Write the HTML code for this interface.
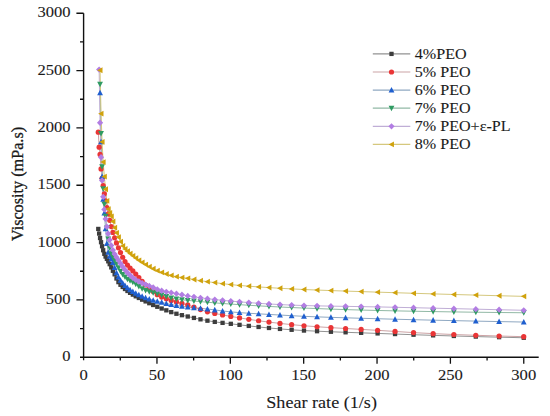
<!DOCTYPE html><html><head><meta charset="utf-8"><style>html,body{margin:0;padding:0;background:#fff;width:550px;height:416px;overflow:hidden;}svg{display:block}text{font-family:"Liberation Serif",serif;fill:#1a1a1a;stroke:#1a1a1a;stroke-width:0.1px}</style></head><body>
<svg width="550" height="416" viewBox="0 0 550 416">
<path d="M98.27 228.94L99.14 233.57L100.06 238.00L101.04 242.22L102.08 246.25L103.17 250.25L104.34 253.82L105.57 256.55L106.87 258.89L108.25 261.31L109.71 264.17L111.26 267.36L112.90 270.77L114.64 274.33L116.48 278.48L118.44 282.12L120.50 284.76L122.69 286.98L125.01 289.00L127.47 290.98L130.07 292.85L132.83 294.61L135.75 296.30L138.85 297.97L142.13 299.66L145.60 301.41L149.28 303.20L153.18 304.99L157.30 306.77L161.68 308.53L166.31 310.34L171.22 312.12L176.42 313.76L181.93 315.18L187.76 316.51L193.94 317.92L200.49 319.34L207.43 320.69L214.78 321.88L222.56 322.87L230.81 323.82L239.54 324.85L248.80 325.91L258.60 326.96L268.98 327.97L279.98 328.92L291.64 329.79L303.98 330.55L317.06 331.20L330.92 331.77L345.59 332.30L361.14 332.84L377.61 333.42L395.05 334.05L413.54 334.71L433.12 335.36L453.86 335.98L475.83 336.58L499.10 337.18L523.76 337.76" fill="none" stroke="#929292" stroke-width="1"/>
<path d="M98.27 132.16L99.14 147.18L100.06 154.40L101.04 168.97L102.08 178.37L103.17 185.48L104.34 193.73L105.57 200.93L106.87 207.51L108.25 213.92L109.71 220.32L111.26 226.53L112.90 232.38L114.64 237.82L116.48 242.95L118.44 247.85L120.50 252.58L122.69 257.27L125.01 261.55L127.47 265.04L130.07 268.04L132.83 270.94L135.75 274.11L138.85 277.67L142.13 281.37L145.60 284.98L149.28 288.34L153.18 291.62L157.30 294.66L161.68 297.04L166.31 298.87L171.22 300.43L176.42 301.94L181.93 303.41L187.76 304.94L193.94 307.11L200.49 309.62L207.43 311.80L214.78 313.47L222.56 314.95L230.81 316.40L239.54 317.88L248.80 319.34L258.60 320.76L268.98 322.12L279.98 323.42L291.64 324.63L303.98 325.74L317.06 326.74L330.92 327.63L345.59 328.50L361.14 329.38L377.61 330.34L395.05 331.45L413.54 332.61L433.12 333.64L453.86 334.52L475.83 335.31L499.10 336.03L523.76 336.67" fill="none" stroke="#cca3a5" stroke-width="1"/>
<path d="M100.06 92.83L101.04 141.68L102.08 176.53L103.17 199.24L104.34 213.00L105.57 228.76L106.87 243.42L108.25 252.20L109.71 256.21L111.26 259.09L112.90 262.59L114.64 267.52L116.48 272.71L118.44 276.98L120.50 280.22L122.69 283.02L125.01 285.48L127.47 287.70L130.07 289.73L132.83 291.60L135.75 293.31L138.85 294.90L142.13 296.38L145.60 297.76L149.28 299.01L153.18 300.18L157.30 301.29L161.68 302.39L166.31 303.48L171.22 304.53L176.42 305.49L181.93 306.36L187.76 307.12L193.94 307.75L200.49 308.33L207.43 308.99L214.78 309.92L222.56 310.97L230.81 311.89L239.54 312.61L248.80 313.25L258.60 313.84L268.98 314.43L279.98 315.04L291.64 315.70L303.98 316.33L317.06 316.86L330.92 317.35L345.59 317.81L361.14 318.27L377.61 318.74L395.05 319.22L413.54 319.69L433.12 320.17L453.86 320.64L475.83 321.11L499.10 321.58L523.76 322.05" fill="none" stroke="#8fa8c2" stroke-width="1"/>
<path d="M100.06 84.23L101.04 133.53L102.08 166.79L103.17 188.69L104.34 204.28L105.57 216.09L106.87 227.90L108.25 239.09L109.71 248.00L111.26 253.64L112.90 257.32L114.64 260.47L116.48 264.02L118.44 267.78L120.50 271.33L122.69 274.38L125.01 277.01L127.47 279.16L130.07 280.81L132.83 282.33L135.75 284.08L138.85 286.41L142.13 288.72L145.60 290.38L149.28 291.63L153.18 292.71L157.30 293.78L161.68 294.99L166.31 296.45L171.22 297.92L176.42 299.08L181.93 299.79L187.76 300.36L193.94 300.99L200.49 301.61L207.43 302.24L214.78 302.86L222.56 303.48L230.81 304.08L239.54 304.67L248.80 305.27L258.60 305.85L268.98 306.43L279.98 306.99L291.64 307.54L303.98 308.07L317.06 308.59L330.92 309.10L345.59 309.60L361.14 310.06L377.61 310.48L395.05 310.87L413.54 311.23L433.12 311.58L453.86 311.91L475.83 312.22L499.10 312.50L523.76 312.76" fill="none" stroke="#92b9a6" stroke-width="1"/>
<path d="M99.14 69.55L100.06 122.76L101.04 157.27L102.08 180.43L103.17 196.83L104.34 209.44L105.57 218.96L106.87 226.74L108.25 233.72L109.71 239.93L111.26 245.38L112.90 250.09L114.64 254.03L116.48 257.27L118.44 260.27L120.50 263.44L122.69 266.73L125.01 269.89L127.47 272.74L130.07 275.37L132.83 277.77L135.75 279.82L138.85 281.51L142.13 283.03L145.60 284.53L149.28 285.97L153.18 287.51L157.30 289.28L161.68 290.73L166.31 291.79L171.22 292.71L176.42 293.66L181.93 294.77L187.76 295.88L193.94 296.86L200.49 297.80L207.43 298.70L214.78 299.54L222.56 300.35L230.81 301.11L239.54 301.85L248.80 302.59L258.60 303.31L268.98 303.98L279.98 304.59L291.64 305.12L303.98 305.54L317.06 305.87L330.92 306.13L345.59 306.36L361.14 306.61L377.61 306.92L395.05 307.29L413.54 307.71L433.12 308.16L453.86 308.65L475.83 309.17L499.10 309.72L523.76 310.29" fill="none" stroke="#c0aed6" stroke-width="1"/>
<path d="M100.06 70.24L101.04 113.70L102.08 141.91L103.17 162.09L104.34 176.53L105.57 189.26L106.87 200.96L108.25 209.10L109.71 212.93L111.26 216.32L112.90 221.47L114.64 227.68L116.48 232.87L118.44 237.20L120.50 241.68L122.69 245.95L125.01 248.93L127.47 251.22L130.07 253.56L132.83 255.85L135.75 258.09L138.85 260.29L142.13 262.45L145.60 264.56L149.28 266.68L153.18 268.74L157.30 270.66L161.68 272.38L166.31 273.99L171.22 275.46L176.42 276.69L181.93 277.57L187.76 278.36L193.94 279.48L200.49 280.69L207.43 281.68L214.78 282.62L222.56 283.65L230.81 284.60L239.54 285.43L248.80 286.20L258.60 286.92L268.98 287.61L279.98 288.27L291.64 288.89L303.98 289.50L317.06 290.06L330.92 290.58L345.59 291.09L361.14 291.60L377.61 292.14L395.05 292.71L413.54 293.29L433.12 293.88L453.86 294.49L475.83 295.10L499.10 295.73L523.76 296.36" fill="none" stroke="#d5c87e" stroke-width="1"/>
<rect x="96.12" y="226.79" width="4.3" height="4.3" fill="#3d3d3d"/><rect x="96.99" y="231.42" width="4.3" height="4.3" fill="#3d3d3d"/><rect x="97.91" y="235.85" width="4.3" height="4.3" fill="#3d3d3d"/><rect x="98.89" y="240.07" width="4.3" height="4.3" fill="#3d3d3d"/><rect x="99.93" y="244.10" width="4.3" height="4.3" fill="#3d3d3d"/><rect x="101.02" y="248.10" width="4.3" height="4.3" fill="#3d3d3d"/><rect x="102.19" y="251.67" width="4.3" height="4.3" fill="#3d3d3d"/><rect x="103.42" y="254.40" width="4.3" height="4.3" fill="#3d3d3d"/><rect x="104.72" y="256.74" width="4.3" height="4.3" fill="#3d3d3d"/><rect x="106.10" y="259.16" width="4.3" height="4.3" fill="#3d3d3d"/><rect x="107.56" y="262.02" width="4.3" height="4.3" fill="#3d3d3d"/><rect x="109.11" y="265.21" width="4.3" height="4.3" fill="#3d3d3d"/><rect x="110.75" y="268.62" width="4.3" height="4.3" fill="#3d3d3d"/><rect x="112.49" y="272.18" width="4.3" height="4.3" fill="#3d3d3d"/><rect x="114.33" y="276.33" width="4.3" height="4.3" fill="#3d3d3d"/><rect x="116.29" y="279.97" width="4.3" height="4.3" fill="#3d3d3d"/><rect x="118.35" y="282.61" width="4.3" height="4.3" fill="#3d3d3d"/><rect x="120.54" y="284.83" width="4.3" height="4.3" fill="#3d3d3d"/><rect x="122.86" y="286.85" width="4.3" height="4.3" fill="#3d3d3d"/><rect x="125.32" y="288.83" width="4.3" height="4.3" fill="#3d3d3d"/><rect x="127.92" y="290.70" width="4.3" height="4.3" fill="#3d3d3d"/><rect x="130.68" y="292.46" width="4.3" height="4.3" fill="#3d3d3d"/><rect x="133.60" y="294.15" width="4.3" height="4.3" fill="#3d3d3d"/><rect x="136.70" y="295.82" width="4.3" height="4.3" fill="#3d3d3d"/><rect x="139.98" y="297.51" width="4.3" height="4.3" fill="#3d3d3d"/><rect x="143.45" y="299.26" width="4.3" height="4.3" fill="#3d3d3d"/><rect x="147.13" y="301.05" width="4.3" height="4.3" fill="#3d3d3d"/><rect x="151.03" y="302.84" width="4.3" height="4.3" fill="#3d3d3d"/><rect x="155.15" y="304.62" width="4.3" height="4.3" fill="#3d3d3d"/><rect x="159.53" y="306.38" width="4.3" height="4.3" fill="#3d3d3d"/><rect x="164.16" y="308.19" width="4.3" height="4.3" fill="#3d3d3d"/><rect x="169.07" y="309.97" width="4.3" height="4.3" fill="#3d3d3d"/><rect x="174.27" y="311.61" width="4.3" height="4.3" fill="#3d3d3d"/><rect x="179.78" y="313.03" width="4.3" height="4.3" fill="#3d3d3d"/><rect x="185.61" y="314.36" width="4.3" height="4.3" fill="#3d3d3d"/><rect x="191.79" y="315.77" width="4.3" height="4.3" fill="#3d3d3d"/><rect x="198.34" y="317.19" width="4.3" height="4.3" fill="#3d3d3d"/><rect x="205.28" y="318.54" width="4.3" height="4.3" fill="#3d3d3d"/><rect x="212.63" y="319.73" width="4.3" height="4.3" fill="#3d3d3d"/><rect x="220.41" y="320.72" width="4.3" height="4.3" fill="#3d3d3d"/><rect x="228.66" y="321.67" width="4.3" height="4.3" fill="#3d3d3d"/><rect x="237.39" y="322.70" width="4.3" height="4.3" fill="#3d3d3d"/><rect x="246.65" y="323.76" width="4.3" height="4.3" fill="#3d3d3d"/><rect x="256.45" y="324.81" width="4.3" height="4.3" fill="#3d3d3d"/><rect x="266.83" y="325.82" width="4.3" height="4.3" fill="#3d3d3d"/><rect x="277.83" y="326.77" width="4.3" height="4.3" fill="#3d3d3d"/><rect x="289.49" y="327.64" width="4.3" height="4.3" fill="#3d3d3d"/><rect x="301.83" y="328.40" width="4.3" height="4.3" fill="#3d3d3d"/><rect x="314.91" y="329.05" width="4.3" height="4.3" fill="#3d3d3d"/><rect x="328.77" y="329.62" width="4.3" height="4.3" fill="#3d3d3d"/><rect x="343.44" y="330.15" width="4.3" height="4.3" fill="#3d3d3d"/><rect x="358.99" y="330.69" width="4.3" height="4.3" fill="#3d3d3d"/><rect x="375.46" y="331.27" width="4.3" height="4.3" fill="#3d3d3d"/><rect x="392.90" y="331.90" width="4.3" height="4.3" fill="#3d3d3d"/><rect x="411.39" y="332.56" width="4.3" height="4.3" fill="#3d3d3d"/><rect x="430.97" y="333.21" width="4.3" height="4.3" fill="#3d3d3d"/><rect x="451.71" y="333.83" width="4.3" height="4.3" fill="#3d3d3d"/><rect x="473.68" y="334.43" width="4.3" height="4.3" fill="#3d3d3d"/><rect x="496.95" y="335.03" width="4.3" height="4.3" fill="#3d3d3d"/><rect x="521.61" y="335.61" width="4.3" height="4.3" fill="#3d3d3d"/>
<circle cx="98.27" cy="132.16" r="2.6" fill="#ea3536"/><circle cx="99.14" cy="147.18" r="2.6" fill="#ea3536"/><circle cx="100.06" cy="154.40" r="2.6" fill="#ea3536"/><circle cx="101.04" cy="168.97" r="2.6" fill="#ea3536"/><circle cx="102.08" cy="178.37" r="2.6" fill="#ea3536"/><circle cx="103.17" cy="185.48" r="2.6" fill="#ea3536"/><circle cx="104.34" cy="193.73" r="2.6" fill="#ea3536"/><circle cx="105.57" cy="200.93" r="2.6" fill="#ea3536"/><circle cx="106.87" cy="207.51" r="2.6" fill="#ea3536"/><circle cx="108.25" cy="213.92" r="2.6" fill="#ea3536"/><circle cx="109.71" cy="220.32" r="2.6" fill="#ea3536"/><circle cx="111.26" cy="226.53" r="2.6" fill="#ea3536"/><circle cx="112.90" cy="232.38" r="2.6" fill="#ea3536"/><circle cx="114.64" cy="237.82" r="2.6" fill="#ea3536"/><circle cx="116.48" cy="242.95" r="2.6" fill="#ea3536"/><circle cx="118.44" cy="247.85" r="2.6" fill="#ea3536"/><circle cx="120.50" cy="252.58" r="2.6" fill="#ea3536"/><circle cx="122.69" cy="257.27" r="2.6" fill="#ea3536"/><circle cx="125.01" cy="261.55" r="2.6" fill="#ea3536"/><circle cx="127.47" cy="265.04" r="2.6" fill="#ea3536"/><circle cx="130.07" cy="268.04" r="2.6" fill="#ea3536"/><circle cx="132.83" cy="270.94" r="2.6" fill="#ea3536"/><circle cx="135.75" cy="274.11" r="2.6" fill="#ea3536"/><circle cx="138.85" cy="277.67" r="2.6" fill="#ea3536"/><circle cx="142.13" cy="281.37" r="2.6" fill="#ea3536"/><circle cx="145.60" cy="284.98" r="2.6" fill="#ea3536"/><circle cx="149.28" cy="288.34" r="2.6" fill="#ea3536"/><circle cx="153.18" cy="291.62" r="2.6" fill="#ea3536"/><circle cx="157.30" cy="294.66" r="2.6" fill="#ea3536"/><circle cx="161.68" cy="297.04" r="2.6" fill="#ea3536"/><circle cx="166.31" cy="298.87" r="2.6" fill="#ea3536"/><circle cx="171.22" cy="300.43" r="2.6" fill="#ea3536"/><circle cx="176.42" cy="301.94" r="2.6" fill="#ea3536"/><circle cx="181.93" cy="303.41" r="2.6" fill="#ea3536"/><circle cx="187.76" cy="304.94" r="2.6" fill="#ea3536"/><circle cx="193.94" cy="307.11" r="2.6" fill="#ea3536"/><circle cx="200.49" cy="309.62" r="2.6" fill="#ea3536"/><circle cx="207.43" cy="311.80" r="2.6" fill="#ea3536"/><circle cx="214.78" cy="313.47" r="2.6" fill="#ea3536"/><circle cx="222.56" cy="314.95" r="2.6" fill="#ea3536"/><circle cx="230.81" cy="316.40" r="2.6" fill="#ea3536"/><circle cx="239.54" cy="317.88" r="2.6" fill="#ea3536"/><circle cx="248.80" cy="319.34" r="2.6" fill="#ea3536"/><circle cx="258.60" cy="320.76" r="2.6" fill="#ea3536"/><circle cx="268.98" cy="322.12" r="2.6" fill="#ea3536"/><circle cx="279.98" cy="323.42" r="2.6" fill="#ea3536"/><circle cx="291.64" cy="324.63" r="2.6" fill="#ea3536"/><circle cx="303.98" cy="325.74" r="2.6" fill="#ea3536"/><circle cx="317.06" cy="326.74" r="2.6" fill="#ea3536"/><circle cx="330.92" cy="327.63" r="2.6" fill="#ea3536"/><circle cx="345.59" cy="328.50" r="2.6" fill="#ea3536"/><circle cx="361.14" cy="329.38" r="2.6" fill="#ea3536"/><circle cx="377.61" cy="330.34" r="2.6" fill="#ea3536"/><circle cx="395.05" cy="331.45" r="2.6" fill="#ea3536"/><circle cx="413.54" cy="332.61" r="2.6" fill="#ea3536"/><circle cx="433.12" cy="333.64" r="2.6" fill="#ea3536"/><circle cx="453.86" cy="334.52" r="2.6" fill="#ea3536"/><circle cx="475.83" cy="335.31" r="2.6" fill="#ea3536"/><circle cx="499.10" cy="336.03" r="2.6" fill="#ea3536"/><circle cx="523.76" cy="336.67" r="2.6" fill="#ea3536"/>
<path d="M100.06 89.78L102.96 95.29L97.16 95.29Z" fill="#1f5fcf"/><path d="M101.04 138.63L103.94 144.14L98.14 144.14Z" fill="#1f5fcf"/><path d="M102.08 173.49L104.98 179.00L99.18 179.00Z" fill="#1f5fcf"/><path d="M103.17 196.19L106.07 201.70L100.27 201.70Z" fill="#1f5fcf"/><path d="M104.34 209.95L107.24 215.46L101.44 215.46Z" fill="#1f5fcf"/><path d="M105.57 225.71L108.47 231.22L102.67 231.22Z" fill="#1f5fcf"/><path d="M106.87 240.38L109.77 245.89L103.97 245.89Z" fill="#1f5fcf"/><path d="M108.25 249.16L111.15 254.67L105.35 254.67Z" fill="#1f5fcf"/><path d="M109.71 253.16L112.61 258.67L106.81 258.67Z" fill="#1f5fcf"/><path d="M111.26 256.04L114.16 261.55L108.36 261.55Z" fill="#1f5fcf"/><path d="M112.90 259.55L115.80 265.06L110.00 265.06Z" fill="#1f5fcf"/><path d="M114.64 264.47L117.54 269.98L111.74 269.98Z" fill="#1f5fcf"/><path d="M116.48 269.67L119.38 275.18L113.58 275.18Z" fill="#1f5fcf"/><path d="M118.44 273.93L121.34 279.44L115.54 279.44Z" fill="#1f5fcf"/><path d="M120.50 277.18L123.40 282.69L117.60 282.69Z" fill="#1f5fcf"/><path d="M122.69 279.98L125.59 285.49L119.79 285.49Z" fill="#1f5fcf"/><path d="M125.01 282.44L127.91 287.95L122.11 287.95Z" fill="#1f5fcf"/><path d="M127.47 284.66L130.37 290.17L124.57 290.17Z" fill="#1f5fcf"/><path d="M130.07 286.69L132.97 292.20L127.17 292.20Z" fill="#1f5fcf"/><path d="M132.83 288.55L135.73 294.06L129.93 294.06Z" fill="#1f5fcf"/><path d="M135.75 290.27L138.65 295.78L132.85 295.78Z" fill="#1f5fcf"/><path d="M138.85 291.85L141.75 297.36L135.95 297.36Z" fill="#1f5fcf"/><path d="M142.13 293.33L145.03 298.84L139.23 298.84Z" fill="#1f5fcf"/><path d="M145.60 294.71L148.50 300.22L142.70 300.22Z" fill="#1f5fcf"/><path d="M149.28 295.97L152.18 301.48L146.38 301.48Z" fill="#1f5fcf"/><path d="M153.18 297.13L156.08 302.64L150.28 302.64Z" fill="#1f5fcf"/><path d="M157.30 298.25L160.20 303.76L154.40 303.76Z" fill="#1f5fcf"/><path d="M161.68 299.34L164.58 304.85L158.78 304.85Z" fill="#1f5fcf"/><path d="M166.31 300.44L169.21 305.95L163.41 305.95Z" fill="#1f5fcf"/><path d="M171.22 301.48L174.12 306.99L168.32 306.99Z" fill="#1f5fcf"/><path d="M176.42 302.45L179.32 307.96L173.52 307.96Z" fill="#1f5fcf"/><path d="M181.93 303.31L184.83 308.82L179.03 308.82Z" fill="#1f5fcf"/><path d="M187.76 304.08L190.66 309.59L184.86 309.59Z" fill="#1f5fcf"/><path d="M193.94 304.71L196.84 310.22L191.04 310.22Z" fill="#1f5fcf"/><path d="M200.49 305.28L203.39 310.79L197.59 310.79Z" fill="#1f5fcf"/><path d="M207.43 305.95L210.33 311.46L204.53 311.46Z" fill="#1f5fcf"/><path d="M214.78 306.87L217.68 312.38L211.88 312.38Z" fill="#1f5fcf"/><path d="M222.56 307.93L225.46 313.44L219.66 313.44Z" fill="#1f5fcf"/><path d="M230.81 308.84L233.71 314.35L227.91 314.35Z" fill="#1f5fcf"/><path d="M239.54 309.56L242.44 315.07L236.64 315.07Z" fill="#1f5fcf"/><path d="M248.80 310.20L251.70 315.71L245.90 315.71Z" fill="#1f5fcf"/><path d="M258.60 310.80L261.50 316.31L255.70 316.31Z" fill="#1f5fcf"/><path d="M268.98 311.38L271.88 316.89L266.08 316.89Z" fill="#1f5fcf"/><path d="M279.98 312.00L282.88 317.51L277.08 317.51Z" fill="#1f5fcf"/><path d="M291.64 312.66L294.54 318.17L288.74 318.17Z" fill="#1f5fcf"/><path d="M303.98 313.28L306.88 318.79L301.08 318.79Z" fill="#1f5fcf"/><path d="M317.06 313.82L319.96 319.33L314.16 319.33Z" fill="#1f5fcf"/><path d="M330.92 314.31L333.82 319.82L328.02 319.82Z" fill="#1f5fcf"/><path d="M345.59 314.77L348.49 320.28L342.69 320.28Z" fill="#1f5fcf"/><path d="M361.14 315.22L364.04 320.73L358.24 320.73Z" fill="#1f5fcf"/><path d="M377.61 315.69L380.51 321.20L374.71 321.20Z" fill="#1f5fcf"/><path d="M395.05 316.17L397.95 321.68L392.15 321.68Z" fill="#1f5fcf"/><path d="M413.54 316.65L416.44 322.16L410.64 322.16Z" fill="#1f5fcf"/><path d="M433.12 317.12L436.02 322.63L430.22 322.63Z" fill="#1f5fcf"/><path d="M453.86 317.60L456.76 323.11L450.96 323.11Z" fill="#1f5fcf"/><path d="M475.83 318.07L478.73 323.58L472.93 323.58Z" fill="#1f5fcf"/><path d="M499.10 318.54L502.00 324.05L496.20 324.05Z" fill="#1f5fcf"/><path d="M523.76 319.00L526.66 324.51L520.86 324.51Z" fill="#1f5fcf"/>
<path d="M100.06 87.27L102.96 81.76L97.16 81.76Z" fill="#2f9b62"/><path d="M101.04 136.58L103.94 131.07L98.14 131.07Z" fill="#2f9b62"/><path d="M102.08 169.83L104.98 164.32L99.18 164.32Z" fill="#2f9b62"/><path d="M103.17 191.73L106.07 186.22L100.27 186.22Z" fill="#2f9b62"/><path d="M104.34 207.33L107.24 201.82L101.44 201.82Z" fill="#2f9b62"/><path d="M105.57 219.14L108.47 213.63L102.67 213.63Z" fill="#2f9b62"/><path d="M106.87 230.94L109.77 225.43L103.97 225.43Z" fill="#2f9b62"/><path d="M108.25 242.13L111.15 236.62L105.35 236.62Z" fill="#2f9b62"/><path d="M109.71 251.05L112.61 245.54L106.81 245.54Z" fill="#2f9b62"/><path d="M111.26 256.69L114.16 251.18L108.36 251.18Z" fill="#2f9b62"/><path d="M112.90 260.36L115.80 254.85L110.00 254.85Z" fill="#2f9b62"/><path d="M114.64 263.51L117.54 258.00L111.74 258.00Z" fill="#2f9b62"/><path d="M116.48 267.07L119.38 261.56L113.58 261.56Z" fill="#2f9b62"/><path d="M118.44 270.83L121.34 265.32L115.54 265.32Z" fill="#2f9b62"/><path d="M120.50 274.38L123.40 268.87L117.60 268.87Z" fill="#2f9b62"/><path d="M122.69 277.42L125.59 271.91L119.79 271.91Z" fill="#2f9b62"/><path d="M125.01 280.05L127.91 274.54L122.11 274.54Z" fill="#2f9b62"/><path d="M127.47 282.20L130.37 276.69L124.57 276.69Z" fill="#2f9b62"/><path d="M130.07 283.86L132.97 278.35L127.17 278.35Z" fill="#2f9b62"/><path d="M132.83 285.37L135.73 279.86L129.93 279.86Z" fill="#2f9b62"/><path d="M135.75 287.13L138.65 281.62L132.85 281.62Z" fill="#2f9b62"/><path d="M138.85 289.46L141.75 283.95L135.95 283.95Z" fill="#2f9b62"/><path d="M142.13 291.77L145.03 286.26L139.23 286.26Z" fill="#2f9b62"/><path d="M145.60 293.42L148.50 287.91L142.70 287.91Z" fill="#2f9b62"/><path d="M149.28 294.67L152.18 289.16L146.38 289.16Z" fill="#2f9b62"/><path d="M153.18 295.75L156.08 290.24L150.28 290.24Z" fill="#2f9b62"/><path d="M157.30 296.82L160.20 291.31L154.40 291.31Z" fill="#2f9b62"/><path d="M161.68 298.04L164.58 292.53L158.78 292.53Z" fill="#2f9b62"/><path d="M166.31 299.50L169.21 293.99L163.41 293.99Z" fill="#2f9b62"/><path d="M171.22 300.96L174.12 295.45L168.32 295.45Z" fill="#2f9b62"/><path d="M176.42 302.12L179.32 296.61L173.52 296.61Z" fill="#2f9b62"/><path d="M181.93 302.83L184.83 297.32L179.03 297.32Z" fill="#2f9b62"/><path d="M187.76 303.40L190.66 297.89L184.86 297.89Z" fill="#2f9b62"/><path d="M193.94 304.03L196.84 298.52L191.04 298.52Z" fill="#2f9b62"/><path d="M200.49 304.66L203.39 299.15L197.59 299.15Z" fill="#2f9b62"/><path d="M207.43 305.29L210.33 299.78L204.53 299.78Z" fill="#2f9b62"/><path d="M214.78 305.91L217.68 300.40L211.88 300.40Z" fill="#2f9b62"/><path d="M222.56 306.52L225.46 301.01L219.66 301.01Z" fill="#2f9b62"/><path d="M230.81 307.12L233.71 301.61L227.91 301.61Z" fill="#2f9b62"/><path d="M239.54 307.72L242.44 302.21L236.64 302.21Z" fill="#2f9b62"/><path d="M248.80 308.31L251.70 302.80L245.90 302.80Z" fill="#2f9b62"/><path d="M258.60 308.90L261.50 303.39L255.70 303.39Z" fill="#2f9b62"/><path d="M268.98 309.48L271.88 303.97L266.08 303.97Z" fill="#2f9b62"/><path d="M279.98 310.04L282.88 304.53L277.08 304.53Z" fill="#2f9b62"/><path d="M291.64 310.59L294.54 305.08L288.74 305.08Z" fill="#2f9b62"/><path d="M303.98 311.12L306.88 305.61L301.08 305.61Z" fill="#2f9b62"/><path d="M317.06 311.64L319.96 306.13L314.16 306.13Z" fill="#2f9b62"/><path d="M330.92 312.15L333.82 306.64L328.02 306.64Z" fill="#2f9b62"/><path d="M345.59 312.64L348.49 307.13L342.69 307.13Z" fill="#2f9b62"/><path d="M361.14 313.11L364.04 307.60L358.24 307.60Z" fill="#2f9b62"/><path d="M377.61 313.52L380.51 308.01L374.71 308.01Z" fill="#2f9b62"/><path d="M395.05 313.91L397.95 308.40L392.15 308.40Z" fill="#2f9b62"/><path d="M413.54 314.28L416.44 308.77L410.64 308.77Z" fill="#2f9b62"/><path d="M433.12 314.63L436.02 309.12L430.22 309.12Z" fill="#2f9b62"/><path d="M453.86 314.96L456.76 309.45L450.96 309.45Z" fill="#2f9b62"/><path d="M475.83 315.27L478.73 309.76L472.93 309.76Z" fill="#2f9b62"/><path d="M499.10 315.55L502.00 310.04L496.20 310.04Z" fill="#2f9b62"/><path d="M523.76 315.80L526.66 310.29L520.86 310.29Z" fill="#2f9b62"/>
<path d="M99.14 66.40L102.24 69.55L99.14 72.70L96.04 69.55Z" fill="#b27de3"/><path d="M100.06 119.61L103.16 122.76L100.06 125.91L96.96 122.76Z" fill="#b27de3"/><path d="M101.04 154.12L104.14 157.27L101.04 160.42L97.94 157.27Z" fill="#b27de3"/><path d="M102.08 177.28L105.18 180.43L102.08 183.58L98.98 180.43Z" fill="#b27de3"/><path d="M103.17 193.68L106.27 196.83L103.17 199.98L100.07 196.83Z" fill="#b27de3"/><path d="M104.34 206.29L107.44 209.44L104.34 212.59L101.24 209.44Z" fill="#b27de3"/><path d="M105.57 215.81L108.67 218.96L105.57 222.11L102.47 218.96Z" fill="#b27de3"/><path d="M106.87 223.59L109.97 226.74L106.87 229.89L103.77 226.74Z" fill="#b27de3"/><path d="M108.25 230.57L111.35 233.72L108.25 236.87L105.15 233.72Z" fill="#b27de3"/><path d="M109.71 236.78L112.81 239.93L109.71 243.08L106.61 239.93Z" fill="#b27de3"/><path d="M111.26 242.23L114.36 245.38L111.26 248.53L108.16 245.38Z" fill="#b27de3"/><path d="M112.90 246.94L116.00 250.09L112.90 253.24L109.80 250.09Z" fill="#b27de3"/><path d="M114.64 250.88L117.74 254.03L114.64 257.18L111.54 254.03Z" fill="#b27de3"/><path d="M116.48 254.12L119.58 257.27L116.48 260.42L113.38 257.27Z" fill="#b27de3"/><path d="M118.44 257.12L121.54 260.27L118.44 263.42L115.34 260.27Z" fill="#b27de3"/><path d="M120.50 260.29L123.60 263.44L120.50 266.59L117.40 263.44Z" fill="#b27de3"/><path d="M122.69 263.58L125.79 266.73L122.69 269.88L119.59 266.73Z" fill="#b27de3"/><path d="M125.01 266.74L128.11 269.89L125.01 273.04L121.91 269.89Z" fill="#b27de3"/><path d="M127.47 269.59L130.57 272.74L127.47 275.89L124.37 272.74Z" fill="#b27de3"/><path d="M130.07 272.22L133.17 275.37L130.07 278.52L126.97 275.37Z" fill="#b27de3"/><path d="M132.83 274.62L135.93 277.77L132.83 280.92L129.73 277.77Z" fill="#b27de3"/><path d="M135.75 276.67L138.85 279.82L135.75 282.97L132.65 279.82Z" fill="#b27de3"/><path d="M138.85 278.36L141.95 281.51L138.85 284.66L135.75 281.51Z" fill="#b27de3"/><path d="M142.13 279.88L145.23 283.03L142.13 286.18L139.03 283.03Z" fill="#b27de3"/><path d="M145.60 281.38L148.70 284.53L145.60 287.68L142.50 284.53Z" fill="#b27de3"/><path d="M149.28 282.82L152.38 285.97L149.28 289.12L146.18 285.97Z" fill="#b27de3"/><path d="M153.18 284.36L156.28 287.51L153.18 290.66L150.08 287.51Z" fill="#b27de3"/><path d="M157.30 286.13L160.40 289.28L157.30 292.43L154.20 289.28Z" fill="#b27de3"/><path d="M161.68 287.58L164.78 290.73L161.68 293.88L158.58 290.73Z" fill="#b27de3"/><path d="M166.31 288.64L169.41 291.79L166.31 294.94L163.21 291.79Z" fill="#b27de3"/><path d="M171.22 289.56L174.32 292.71L171.22 295.86L168.12 292.71Z" fill="#b27de3"/><path d="M176.42 290.51L179.52 293.66L176.42 296.81L173.32 293.66Z" fill="#b27de3"/><path d="M181.93 291.62L185.03 294.77L181.93 297.92L178.83 294.77Z" fill="#b27de3"/><path d="M187.76 292.73L190.86 295.88L187.76 299.03L184.66 295.88Z" fill="#b27de3"/><path d="M193.94 293.71L197.04 296.86L193.94 300.01L190.84 296.86Z" fill="#b27de3"/><path d="M200.49 294.65L203.59 297.80L200.49 300.95L197.39 297.80Z" fill="#b27de3"/><path d="M207.43 295.55L210.53 298.70L207.43 301.85L204.33 298.70Z" fill="#b27de3"/><path d="M214.78 296.39L217.88 299.54L214.78 302.69L211.68 299.54Z" fill="#b27de3"/><path d="M222.56 297.20L225.66 300.35L222.56 303.50L219.46 300.35Z" fill="#b27de3"/><path d="M230.81 297.96L233.91 301.11L230.81 304.26L227.71 301.11Z" fill="#b27de3"/><path d="M239.54 298.70L242.64 301.85L239.54 305.00L236.44 301.85Z" fill="#b27de3"/><path d="M248.80 299.44L251.90 302.59L248.80 305.74L245.70 302.59Z" fill="#b27de3"/><path d="M258.60 300.16L261.70 303.31L258.60 306.46L255.50 303.31Z" fill="#b27de3"/><path d="M268.98 300.83L272.08 303.98L268.98 307.13L265.88 303.98Z" fill="#b27de3"/><path d="M279.98 301.44L283.08 304.59L279.98 307.74L276.88 304.59Z" fill="#b27de3"/><path d="M291.64 301.97L294.74 305.12L291.64 308.27L288.54 305.12Z" fill="#b27de3"/><path d="M303.98 302.39L307.08 305.54L303.98 308.69L300.88 305.54Z" fill="#b27de3"/><path d="M317.06 302.72L320.16 305.87L317.06 309.02L313.96 305.87Z" fill="#b27de3"/><path d="M330.92 302.98L334.02 306.13L330.92 309.28L327.82 306.13Z" fill="#b27de3"/><path d="M345.59 303.21L348.69 306.36L345.59 309.51L342.49 306.36Z" fill="#b27de3"/><path d="M361.14 303.46L364.24 306.61L361.14 309.76L358.04 306.61Z" fill="#b27de3"/><path d="M377.61 303.77L380.71 306.92L377.61 310.07L374.51 306.92Z" fill="#b27de3"/><path d="M395.05 304.14L398.15 307.29L395.05 310.44L391.95 307.29Z" fill="#b27de3"/><path d="M413.54 304.56L416.64 307.71L413.54 310.86L410.44 307.71Z" fill="#b27de3"/><path d="M433.12 305.01L436.22 308.16L433.12 311.31L430.02 308.16Z" fill="#b27de3"/><path d="M453.86 305.50L456.96 308.65L453.86 311.80L450.76 308.65Z" fill="#b27de3"/><path d="M475.83 306.02L478.93 309.17L475.83 312.32L472.73 309.17Z" fill="#b27de3"/><path d="M499.10 306.57L502.20 309.72L499.10 312.87L496.00 309.72Z" fill="#b27de3"/><path d="M523.76 307.14L526.86 310.29L523.76 313.44L520.66 310.29Z" fill="#b27de3"/>
<path d="M97.16 70.24L102.53 67.34L102.53 73.14Z" fill="#d0a20c"/><path d="M98.14 113.70L103.51 110.80L103.51 116.60Z" fill="#d0a20c"/><path d="M99.18 141.91L104.54 139.01L104.54 144.81Z" fill="#d0a20c"/><path d="M100.27 162.09L105.64 159.19L105.64 164.99Z" fill="#d0a20c"/><path d="M101.44 176.53L106.80 173.63L106.80 179.43Z" fill="#d0a20c"/><path d="M102.67 189.26L108.03 186.36L108.03 192.16Z" fill="#d0a20c"/><path d="M103.97 200.96L109.33 198.06L109.33 203.86Z" fill="#d0a20c"/><path d="M105.35 209.10L110.71 206.20L110.71 212.00Z" fill="#d0a20c"/><path d="M106.81 212.93L112.18 210.03L112.18 215.83Z" fill="#d0a20c"/><path d="M108.36 216.32L113.73 213.42L113.73 219.22Z" fill="#d0a20c"/><path d="M110.00 221.47L115.37 218.57L115.37 224.37Z" fill="#d0a20c"/><path d="M111.74 227.68L117.11 224.78L117.11 230.58Z" fill="#d0a20c"/><path d="M113.58 232.87L118.95 229.97L118.95 235.77Z" fill="#d0a20c"/><path d="M115.54 237.20L120.90 234.30L120.90 240.10Z" fill="#d0a20c"/><path d="M117.60 241.68L122.97 238.78L122.97 244.58Z" fill="#d0a20c"/><path d="M119.79 245.95L125.16 243.05L125.16 248.85Z" fill="#d0a20c"/><path d="M122.11 248.93L127.48 246.03L127.48 251.83Z" fill="#d0a20c"/><path d="M124.57 251.22L129.94 248.32L129.94 254.12Z" fill="#d0a20c"/><path d="M127.17 253.56L132.54 250.66L132.54 256.46Z" fill="#d0a20c"/><path d="M129.93 255.85L135.30 252.95L135.30 258.75Z" fill="#d0a20c"/><path d="M132.85 258.09L138.22 255.19L138.22 260.99Z" fill="#d0a20c"/><path d="M135.95 260.29L141.31 257.39L141.31 263.19Z" fill="#d0a20c"/><path d="M139.23 262.45L144.59 259.55L144.59 265.35Z" fill="#d0a20c"/><path d="M142.70 264.56L148.06 261.66L148.06 267.46Z" fill="#d0a20c"/><path d="M146.38 266.68L151.74 263.78L151.74 269.58Z" fill="#d0a20c"/><path d="M150.28 268.74L155.64 265.84L155.64 271.64Z" fill="#d0a20c"/><path d="M154.40 270.66L159.77 267.76L159.77 273.56Z" fill="#d0a20c"/><path d="M158.78 272.38L164.14 269.48L164.14 275.28Z" fill="#d0a20c"/><path d="M163.41 273.99L168.78 271.09L168.78 276.89Z" fill="#d0a20c"/><path d="M168.32 275.46L173.69 272.56L173.69 278.36Z" fill="#d0a20c"/><path d="M173.52 276.69L178.88 273.79L178.88 279.59Z" fill="#d0a20c"/><path d="M179.03 277.57L184.39 274.67L184.39 280.47Z" fill="#d0a20c"/><path d="M184.86 278.36L190.23 275.46L190.23 281.26Z" fill="#d0a20c"/><path d="M191.04 279.48L196.41 276.58L196.41 282.38Z" fill="#d0a20c"/><path d="M197.59 280.69L202.96 277.79L202.96 283.59Z" fill="#d0a20c"/><path d="M204.53 281.68L209.89 278.78L209.89 284.58Z" fill="#d0a20c"/><path d="M211.88 282.62L217.24 279.72L217.24 285.52Z" fill="#d0a20c"/><path d="M219.66 283.65L225.03 280.75L225.03 286.55Z" fill="#d0a20c"/><path d="M227.91 284.60L233.27 281.70L233.27 287.50Z" fill="#d0a20c"/><path d="M236.64 285.43L242.01 282.53L242.01 288.33Z" fill="#d0a20c"/><path d="M245.90 286.20L251.26 283.30L251.26 289.10Z" fill="#d0a20c"/><path d="M255.70 286.92L261.06 284.02L261.06 289.82Z" fill="#d0a20c"/><path d="M266.08 287.61L271.45 284.71L271.45 290.51Z" fill="#d0a20c"/><path d="M277.08 288.27L282.45 285.37L282.45 291.17Z" fill="#d0a20c"/><path d="M288.74 288.89L294.10 285.99L294.10 291.79Z" fill="#d0a20c"/><path d="M301.08 289.50L306.45 286.60L306.45 292.40Z" fill="#d0a20c"/><path d="M314.16 290.06L319.53 287.16L319.53 292.96Z" fill="#d0a20c"/><path d="M328.02 290.58L333.38 287.68L333.38 293.48Z" fill="#d0a20c"/><path d="M342.69 291.09L348.06 288.19L348.06 293.99Z" fill="#d0a20c"/><path d="M358.24 291.60L363.60 288.70L363.60 294.50Z" fill="#d0a20c"/><path d="M374.71 292.14L380.07 289.24L380.07 295.04Z" fill="#d0a20c"/><path d="M392.15 292.71L397.52 289.81L397.52 295.61Z" fill="#d0a20c"/><path d="M410.64 293.29L416.00 290.39L416.00 296.19Z" fill="#d0a20c"/><path d="M430.22 293.88L435.58 290.98L435.58 296.78Z" fill="#d0a20c"/><path d="M450.96 294.49L456.32 291.59L456.32 297.39Z" fill="#d0a20c"/><path d="M472.93 295.10L478.29 292.20L478.29 298.00Z" fill="#d0a20c"/><path d="M496.20 295.73L501.57 292.83L501.57 298.63Z" fill="#d0a20c"/><path d="M520.86 296.36L526.23 293.46L526.23 299.26Z" fill="#d0a20c"/>
<path d="M83.6 13.25V357.25M80 357.25H538.7" stroke="#111" stroke-width="1.4" fill="none"/>
<path d="M80.0 328.58H83.6M76.4 299.92H83.6M80.0 271.25H83.6M76.4 242.58H83.6M80.0 213.92H83.6M76.4 185.25H83.6M80.0 156.58H83.6M76.4 127.92H83.6M80.0 99.25H83.6M76.4 70.58H83.6M80.0 41.92H83.6M76.4 13.25H83.6M83.60 357.25V360.3M120.28 357.25V360.5M156.96 357.25V363.7M193.64 357.25V360.5M230.32 357.25V363.7M267.00 357.25V360.5M303.68 357.25V363.7M340.36 357.25V360.5M377.04 357.25V363.7M413.72 357.25V360.5M450.40 357.25V363.7M487.08 357.25V360.5M523.76 357.25V363.7" stroke="#111" stroke-width="1.3" fill="none"/>
<text transform="translate(70.6,361.35) scale(1.065,1)" font-size="15.5" text-anchor="end">0</text>
<text transform="translate(70.6,304.02) scale(1.065,1)" font-size="15.5" text-anchor="end">500</text>
<text transform="translate(70.6,246.68) scale(1.065,1)" font-size="15.5" text-anchor="end">1000</text>
<text transform="translate(70.6,189.35) scale(1.065,1)" font-size="15.5" text-anchor="end">1500</text>
<text transform="translate(70.6,132.02) scale(1.065,1)" font-size="15.5" text-anchor="end">2000</text>
<text transform="translate(70.6,74.68) scale(1.065,1)" font-size="15.5" text-anchor="end">2500</text>
<text transform="translate(70.6,17.35) scale(1.065,1)" font-size="15.5" text-anchor="end">3000</text>
<text transform="translate(83.60,379.7) scale(1.07,1)" font-size="15.5" text-anchor="middle">0</text>
<text transform="translate(156.96,379.7) scale(1.07,1)" font-size="15.5" text-anchor="middle">50</text>
<text transform="translate(230.32,379.7) scale(1.07,1)" font-size="15.5" text-anchor="middle">100</text>
<text transform="translate(303.68,379.7) scale(1.07,1)" font-size="15.5" text-anchor="middle">150</text>
<text transform="translate(377.04,379.7) scale(1.07,1)" font-size="15.5" text-anchor="middle">200</text>
<text transform="translate(450.40,379.7) scale(1.07,1)" font-size="15.5" text-anchor="middle">250</text>
<text transform="translate(523.76,379.7) scale(1.07,1)" font-size="15.5" text-anchor="middle">300</text>
<text transform="translate(321.6,407.9) scale(1.03,1)" font-size="17.6" text-anchor="middle">Shear rate (1/s)</text>
<text transform="translate(22.6,184) rotate(-90) scale(1,1.06)" x="0" y="0" font-size="16.2" text-anchor="middle" style="stroke-width:0.3px">Viscosity (mPa.s)</text>
<path d="M372.8 53.90H410.3" stroke="#929292" stroke-width="1.2"/>
<rect x="389.35" y="51.75" width="4.3" height="4.3" fill="#3d3d3d"/>
<text transform="translate(414.8,58.50) scale(1.11,1)" font-size="14.5">4%PEO</text>
<path d="M372.8 72.00H410.3" stroke="#cca3a5" stroke-width="1.2"/>
<circle cx="391.50" cy="72.00" r="2.6" fill="#ea3536"/>
<text transform="translate(414.8,76.60) scale(1.11,1)" font-size="14.5">5% PEO</text>
<path d="M372.8 90.10H410.3" stroke="#8fa8c2" stroke-width="1.2"/>
<path d="M391.50 87.06L394.40 92.57L388.60 92.57Z" fill="#1f5fcf"/>
<text transform="translate(414.8,94.70) scale(1.11,1)" font-size="14.5">6% PEO</text>
<path d="M372.8 108.20H410.3" stroke="#92b9a6" stroke-width="1.2"/>
<path d="M391.50 111.25L394.40 105.74L388.60 105.74Z" fill="#2f9b62"/>
<text transform="translate(414.8,112.80) scale(1.11,1)" font-size="14.5">7% PEO</text>
<path d="M372.8 126.30H410.3" stroke="#c0aed6" stroke-width="1.2"/>
<path d="M391.50 123.15L394.60 126.30L391.50 129.45L388.40 126.30Z" fill="#b27de3"/>
<text transform="translate(414.8,130.90) scale(1.11,1)" font-size="14.5">7% PEO+ε-PL</text>
<path d="M372.8 144.40H410.3" stroke="#d5c87e" stroke-width="1.2"/>
<path d="M388.60 144.40L393.96 141.50L393.96 147.30Z" fill="#d0a20c"/>
<text transform="translate(414.8,149.00) scale(1.11,1)" font-size="14.5">8% PEO</text>
</svg></body></html>
